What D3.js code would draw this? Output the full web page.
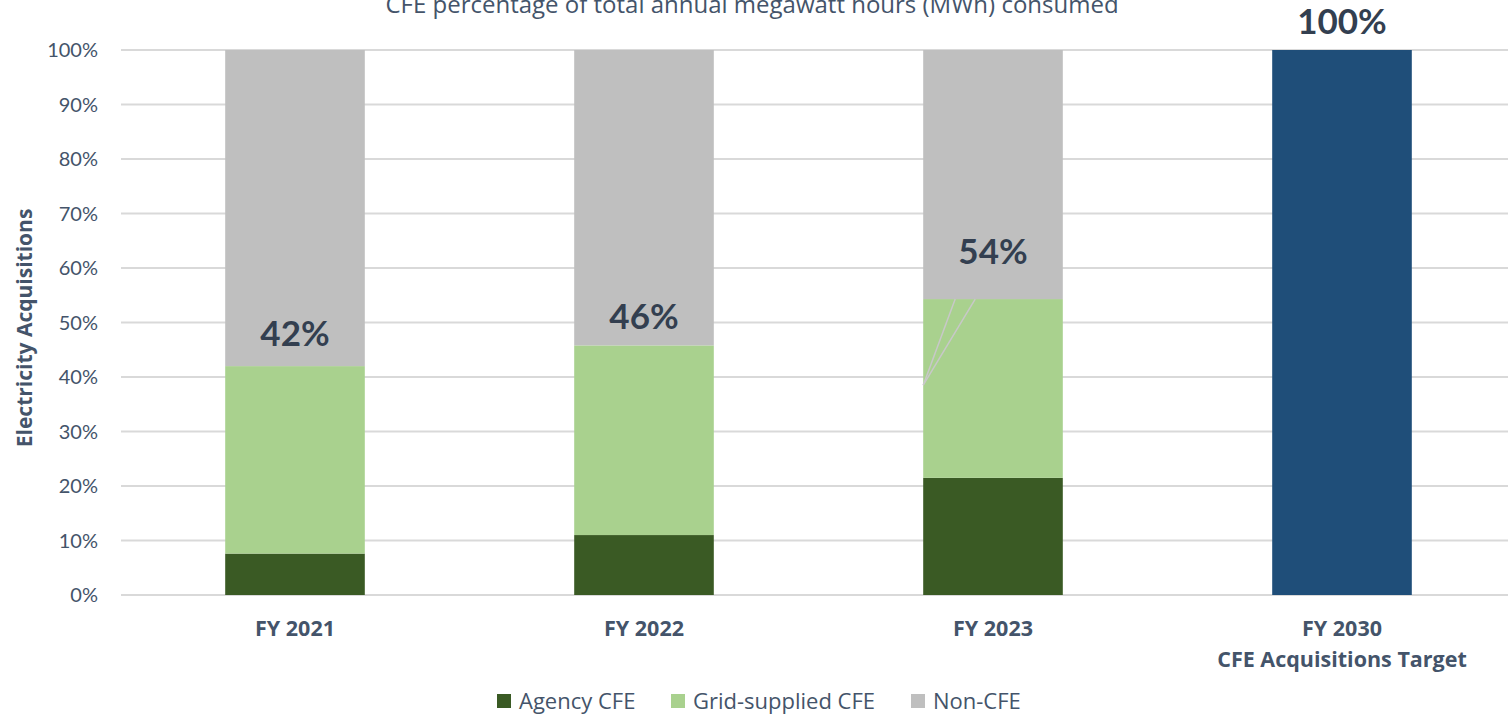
<!DOCTYPE html>
<html>
<head>
<meta charset="utf-8">
<script src="https://cdn.jsdelivr.net/npm/d3@7"></script>
<style>
  body { margin: 0; background: #fff; }
  svg { display: block; font-family: "Open Sans", sans-serif; }
  .grid line { stroke: #d9d9d9; stroke-width: 2; }
  .tick-label { fill: #44546a; font-size: 20px; font-family: Lato, sans-serif; }
  .cat-label { fill: #44546a; font-size: 21.5px; font-weight: bold; }
  .data-label { fill: #333f50; font-size: 35px; font-weight: bold; font-family: Lato, sans-serif; }
</style>
</head>
<body>
<div id="chart"></div>
<script>
// chart data (percent of total MWh)
var years = ["FY 2021", "FY 2022", "FY 2023", "FY 2030"];
var agencyCFE = [7.6, 11.0, 21.5, 0];
var gridCFE = [34.4, 34.8, 32.8, 0];
var nonCFE = [58.0, 54.2, 45.7, 0];
var target = [0, 0, 0, 100];
var totalLabels = ["42%", "46%", "54%", "100%"];
var yTicks = [0, 10, 20, 30, 40, 50, 60, 70, 80, 90, 100];
var seriesNames = ["Agency CFE", "Grid-supplied CFE", "Non-CFE"];

var W = 1508, H = 716;
var colors = { agency: "#3a5a24", grid: "#a9d18e", non: "#bfbfbf", target: "#1f4e79" };
// label lift above the CFE segment (px), per bar
var labelLift = [32, 29, 47, 28];

var svg = d3.select("#chart").append("svg")
  .attr("width", W).attr("height", H);

var x = d3.scaleBand()
  .domain(years)
  .range([120.5, 1516.5])
  .paddingInner(0.6)
  .paddingOuter(0.3);

var y = d3.scaleLinear()
  .domain([0, 100])
  .range([595, 50]);

// title (partly off the top edge, as in the source)
svg.append("text")
  .attr("x", 752).attr("y", 13)
  .attr("text-anchor", "middle")
  .attr("fill", "#44546a")
  .attr("font-size", "24px")
  .text("CFE percentage of total annual megawatt hours (MWh) consumed");

// gridlines
svg.append("g").attr("class", "grid")
  .selectAll("line")
  .data(yTicks)
  .enter().append("line")
  .attr("x1", 121).attr("x2", W)
  .attr("y1", function(d) { return y(d); })
  .attr("y2", function(d) { return y(d); });

// y tick labels
svg.append("g")
  .selectAll("text")
  .data(yTicks)
  .enter().append("text")
  .attr("class", "tick-label")
  .attr("x", 98)
  .attr("y", function(d) { return y(d); })
  .attr("dy", "0.35em")
  .attr("text-anchor", "end")
  .text(function(d) { return d + "%"; });

// y axis title
svg.append("text")
  .attr("transform", "translate(32," + y(49) + ") rotate(-90)")
  .attr("text-anchor", "middle")
  .attr("fill", "#44546a")
  .attr("font-size", "21px")
  .attr("font-weight", "bold")
  .text("Electricity Acquisitions");

// stacked bars
var rows = years.map(function(yr, i) {
  return { year: yr, agency: agencyCFE[i], grid: gridCFE[i], non: nonCFE[i], target: target[i] };
});
var keys = ["agency", "grid", "non", "target"];
var stack = d3.stack().keys(keys)(rows);

svg.append("g")
  .selectAll("g")
  .data(stack)
  .enter().append("g")
  .attr("fill", function(d) { return colors[d.key]; })
  .selectAll("rect")
  .data(function(d) { return d; })
  .enter().append("rect")
  .attr("x", function(d) { return x(d.data.year); })
  .attr("width", x.bandwidth())
  .attr("y", function(d) { return y(d[1]); })
  .attr("height", function(d) { return y(d[0]) - y(d[1]); });

// leader lines on FY 2023 label
var b3 = x("FY 2023");
var top3 = agencyCFE[2] + gridCFE[2];
var leader = svg.append("g").attr("stroke", "#c8c8c8").attr("stroke-width", 1.5);
leader.append("line")
  .attr("x1", b3).attr("y1", y(38.5))
  .attr("x2", b3 + 32).attr("y2", y(top3));
leader.append("line")
  .attr("x1", b3).attr("y1", y(38.5))
  .attr("x2", b3 + 52).attr("y2", y(top3));

// total CFE labels
svg.append("g")
  .selectAll("text")
  .data(rows)
  .enter().append("text")
  .attr("class", "data-label")
  .attr("text-anchor", "middle")
  .attr("x", function(d) { return x(d.year) + x.bandwidth() / 2; })
  .attr("y", function(d, i) {
    return y(d.agency + d.grid + d.target) - labelLift[i];
  })
  .attr("dy", "0.35em")
  .text(function(d, i) { return totalLabels[i]; });

// category labels
var catLines = [["FY 2021"], ["FY 2022"], ["FY 2023"], ["FY 2030", "CFE Acquisitions Target"]];
var cats = svg.append("g")
  .selectAll("text")
  .data(years)
  .enter().append("text")
  .attr("class", "cat-label")
  .attr("text-anchor", "middle")
  .attr("x", function(d) { return x(d) + x.bandwidth() / 2; })
  .attr("y", 636);
cats.selectAll("tspan")
  .data(function(d, i) { return catLines[i]; })
  .enter().append("tspan")
  .attr("x", function() { return this.parentNode.getAttribute("x"); })
  .attr("dy", function(d, i) { return i === 0 ? 0 : 31; })
  .text(function(d) { return d; });

// legend
var legendX = [497, 671, 911];
var legendCols = [colors.agency, colors.grid, colors.non];
var lg = svg.append("g")
  .selectAll("g")
  .data(seriesNames)
  .enter().append("g")
  .attr("transform", function(d, i) { return "translate(" + legendX[i] + ",694)"; });
lg.append("rect")
  .attr("width", 14).attr("height", 14)
  .attr("fill", function(d, i) { return legendCols[i]; });
lg.append("text")
  .attr("x", 22).attr("y", 7)
  .attr("dy", "0.35em")
  .attr("fill", "#44546a")
  .attr("font-size", "22px")
  .text(function(d) { return d; });
</script>
</body>
</html>
